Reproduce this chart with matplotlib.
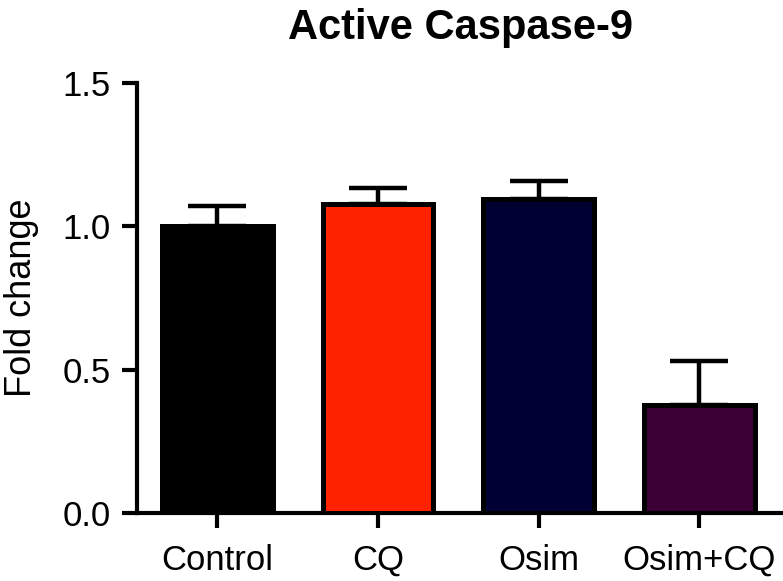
import matplotlib.pyplot as plt

plt.rcParams['font.family'] = ['Liberation Sans', 'DejaVu Sans']

groups = ['Control', 'CQ', 'Osim', 'Osim+CQ']
fold_change = [1.00, 1.078, 1.095, 0.377]
sem = [0.07, 0.055, 0.063, 0.155]
bar_colors = ['#000000', '#ff2200', '#000033', '#3a0035']

fig = plt.figure(figsize=(7.83, 5.81), dpi=100)
ax = fig.add_axes([0.175, 0.117, 0.825, 0.74])

x = range(len(groups))
ax.bar(x, fold_change, width=0.69, color=bar_colors, edgecolor='black',
       linewidth=3.6, zorder=3)
# only the upper half of the error bar is visible in the figure
ax.errorbar(x, fold_change, yerr=[[0] * len(sem), sem], fmt='none',
            ecolor='black', elinewidth=3.2, capsize=21, capthick=3.2, zorder=2)

ax.set_xlim(-0.5, 3.52)
ax.set_ylim(0, 1.5)
ax.set_yticks([0.0, 0.5, 1.0, 1.5])
ax.set_yticklabels(['0.0', '0.5', '1.0', '1.5'])
ax.set_xticks(list(x))
ax.set_xticklabels(groups)

for side in ['top', 'right']:
    ax.spines[side].set_visible(False)
for side in ['left', 'bottom']:
    ax.spines[side].set_linewidth(3)
ax.tick_params(axis='both', width=3, length=11, labelsize=25)
ax.tick_params(axis='y', pad=8)
ax.tick_params(axis='x', pad=11)

ax.set_ylabel('Fold change', fontsize=26, labelpad=17)
ax.set_title('Active Caspase-9', fontsize=30, fontweight='bold', pad=32)

fig.savefig('out.png', dpi=100)
